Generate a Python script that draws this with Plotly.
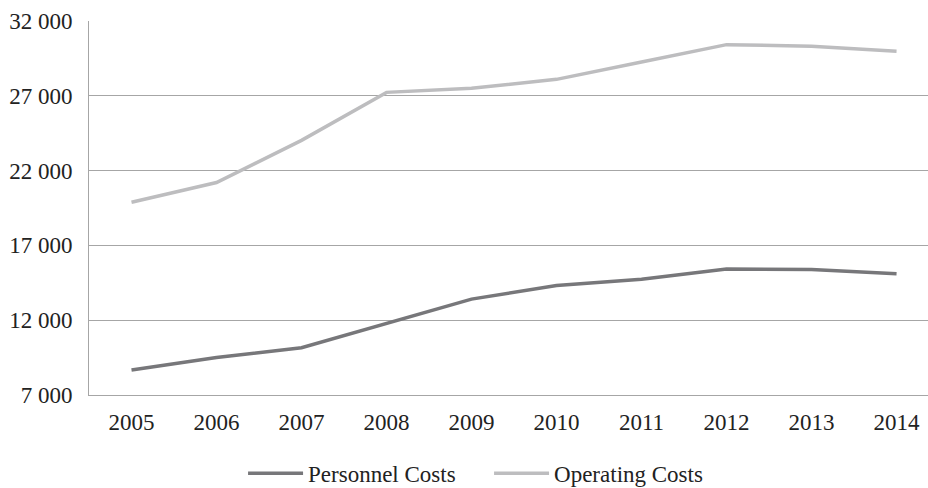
import plotly.graph_objects as go

years = ["2005", "2006", "2007", "2008", "2009", "2010", "2011", "2012", "2013", "2014"]
personnel = [8670, 9510, 10160, 11790, 13410, 14320, 14730, 15430, 15390, 15100]
operating = [19890, 21200, 24020, 27230, 27500, 28100, 29260, 30420, 30310, 29980]
ytick_vals = [7000, 12000, 17000, 22000, 27000, 32000]
ytick_text = ["7 000", "12 000", "17 000", "22 000", "27 000", "32 000"]

fig = go.Figure()
fig.add_trace(go.Scatter(x=years, y=personnel, mode="lines", name="Personnel Costs",
                         line=dict(color="#77777a", width=3.5)))
fig.add_trace(go.Scatter(x=years, y=operating, mode="lines", name="Operating Costs",
                         line=dict(color="#bdbdbf", width=3.5)))

font = dict(family="Liberation Serif, Times New Roman, serif", size=23, color="#222222")
fig.update_layout(
    width=928, height=488,
    margin=dict(l=89, r=0, t=21, b=93),
    paper_bgcolor="white", plot_bgcolor="white",
    font=font,
    showlegend=True,
    legend=dict(orientation="h", xref="container", yref="container",
                x=0.527, xanchor="center", y=0.03, yanchor="middle",
                font=font, itemwidth=55, tracegroupgap=0,
                entrywidth=176, entrywidthmode="pixels"),
    xaxis=dict(type="category", range=[-0.5, 9.37], showgrid=False,
               showline=True, linecolor="#a6a6a6", linewidth=1,
               ticks="", ticklabelstandoff=6, tickfont=font, fixedrange=True),
    yaxis=dict(range=[7000, 32000], tickvals=ytick_vals, ticktext=ytick_text,
               showgrid=True, gridcolor="#a6a6a6", gridwidth=1,
               showline=True, linecolor="#a6a6a6", linewidth=1,
               zeroline=False, ticks="", ticklabelstandoff=11, tickfont=font),
)
fig.write_html("out.html")
